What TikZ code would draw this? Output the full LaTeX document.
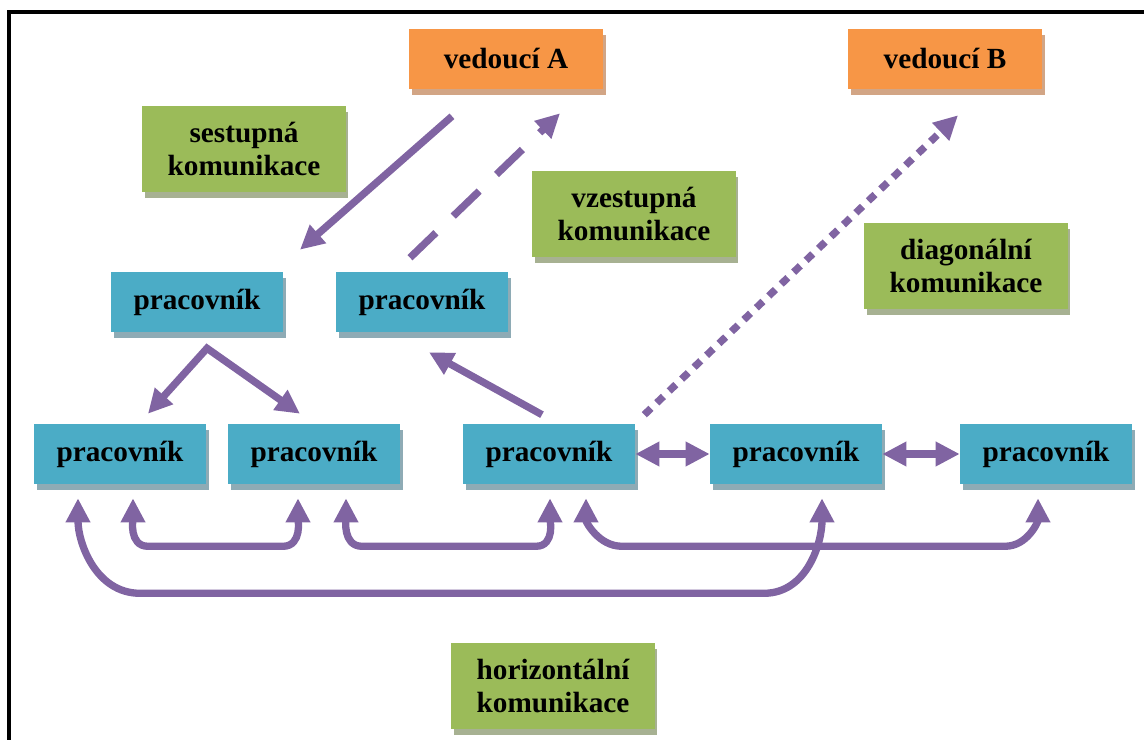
\documentclass[tikz,border=0pt]{standalone}
\usepackage{fontspec}
\setmainfont{Liberation Serif}
\usetikzlibrary{arrows.meta,shadows,calc}

\definecolor{cOrange}{HTML}{F79646}
\definecolor{sOrange}{HTML}{D2A585}
\definecolor{cBlue}{HTML}{4BACC6}
\definecolor{sBlue}{HTML}{8EABB5}
\definecolor{cGreen}{HTML}{9BBB59}
\definecolor{sGreen}{HTML}{A7B192}
\definecolor{cPurple}{HTML}{8064A2}

\begin{document}
\begin{tikzpicture}[x=0.025cm, y=-0.025cm,
	>={Triangle[length=0.6cm 0, width=0.58cm 0]},
	box/.style={inner sep=0pt, align=center, text=black,
		font=\fontsize{20.8}{23.5}\selectfont\bfseries},
	leader/.style={box, fill=cOrange, minimum width=4.85cm, minimum height=1.5cm,
		drop shadow={shadow xshift=0.07cm, shadow yshift=-0.14cm, fill=sOrange, opacity=1}},
	worker/.style={box, fill=cBlue, minimum width=4.3cm, minimum height=1.5cm,
		drop shadow={shadow xshift=0.07cm, shadow yshift=-0.14cm, fill=sBlue, opacity=1}},
	topic/.style={box, fill=cGreen, minimum width=5.075cm, minimum height=2.15cm,
		drop shadow={shadow xshift=0.07cm, shadow yshift=-0.14cm, fill=sGreen, opacity=1}},
	link/.style={draw=cPurple, line width=5.2pt, ->},
	both/.style={draw=cPurple, line width=5.2pt, <->}]

	\useasboundingbox (0,0) rectangle (1144,740);
	% ramecek
	\draw [line width=2.8pt] (9,12) rectangle (1180,780);

	% vedouci
	\node [leader] (vedA) at (506,59) {vedoucí A};
	\node [leader] (vedB) at (945,59) {vedoucí B};

	% popisky
	\node [topic] (kSest) at (244,149) {sestupná\\komunikace};
	\node [topic] (kVzes) at (634,214) {vzestupná\\komunikace};
	\node [topic] (kDiag) at (966,266) {diagonální\\komunikace};
	\node [topic] (kHor) at (553,686) {horizontální\\komunikace};

	% pracovnici
	\node [worker] (pL) at (197,302) {pracovník};
	\node [worker] (pR) at (422,302) {pracovník};
	\node [worker] (p1) at (120,454) {pracovník};
	\node [worker] (p2) at (314,454) {pracovník};
	\node [worker] (p3) at (549,454) {pracovník};
	\node [worker] (p4) at (796,454) {pracovník};
	\node [worker] (p5) at (1046,454) {pracovník};

	% sestupna, vzestupna, diagonalni
	\draw [link] ($(vedA.south)+(-54,27)$) -- ($(pL.north)+(103,-22)$);
	\draw [link, dash pattern=on 0.9cm off 0.6cm] ($(pR.north)+(-12,-14)$) -- ($(vedA.south)+(54,24)$);
	\draw [link, dash pattern=on 0.23cm off 0.2cm] ($(p3.north east)+(9,-9)$) -- ($(vedB.south)+(13,26)$);

	% mezi urovnemi
	\draw [both, line join=miter] ($(p1.north)+(28,-10)$) -- ($(pL.south)+(10,16)$) -- ($(p2.north)+(-14,-10)$);
	\draw [link] ($(p3.north)+(-7,-9)$) -- ($(pR.south)+(7,20)$);

	% horizontalni
	\draw [both] (p3.east) -- (p4.west);
	\draw [both] (p4.east) -- (p5.west);
	\draw [both] ($(p1.south)+(13,14)$) to [out=-90, in=180] ++(15,48) -- ($(p2.south)+(-31,62)$) to [out=0, in=-90] ++(15,-48);
	\draw [both] ($(p2.south)+(32,14)$) to [out=-90, in=180] ++(16,48) -- ($(p3.south)+(-13,62)$) to [out=0, in=-90] ++(14,-48);
	\draw [both] ($(p1.south)+(-42,14)$) to [out=-90, in=180] ++(62,95) -- ($(p4.south)+(-32,109)$) to [out=0, in=-90] ++(58,-95);
	\draw [both] ($(p3.south)+(37,14)$) to [out=-90, in=180] ++(36,48) -- ($(p5.south)+(-41,62)$) to [out=0, in=-90] ++(33,-48);
\end{tikzpicture}
\end{document}
